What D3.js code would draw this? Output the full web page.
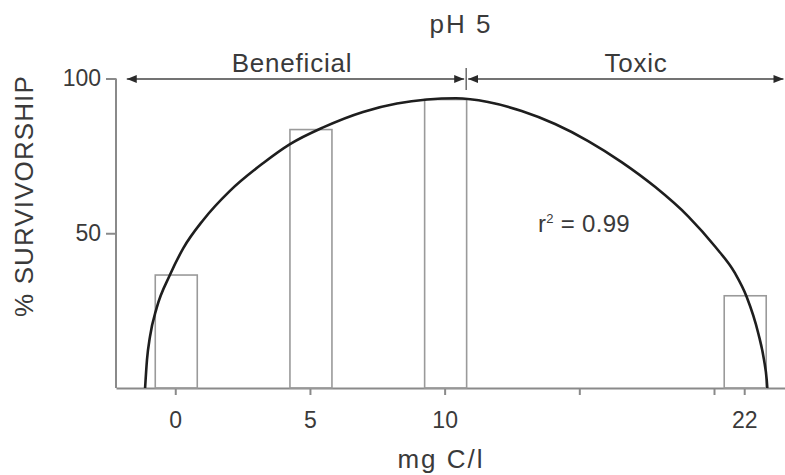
<!DOCTYPE html>
<html>
<head>
<meta charset="utf-8">
<script src="https://cdn.jsdelivr.net/npm/d3@7"></script>
<style>
  body { margin: 0; background: #fff; }
  svg { display: block; font-family: "Liberation Sans", Arial, sans-serif; }
  .axis path, .axis line { stroke: #8a8a8a; stroke-width: 2; }
  .axis text { font-size: 23px; fill: #3a3a3a; }
  .label { font-size: 26px; fill: #3a3a3a; letter-spacing: 0.8px; }
</style>
</head>
<body>
<svg id="chart" width="785" height="475"></svg>
<script>
const width = 785;
const height = 475;

/* DATA */
const doses = [0, 5, 10, 22];                 // mg C/l
const survival = [36.5, 83.5, 93.2, 29.8];    // % survivorship

// fitted curve
const fitX = [-1.12, -1.05, -0.94, -0.69, -0.20, 0.30, 1.04, 2.03, 3.27, 4.26, 5.49, 6.97, 8.23, 9.35,
  10.42, 11.61, 12.86, 14.10, 15.33, 16.57, 17.81, 19.05, 20.07, 21.39, 22.16, 22.93, 23.31, 23.49, 23.53];
const fitY = [0, 9.1, 16.5, 25.9, 36.5, 45.2, 54.3, 63.7, 72.7, 78.8, 84.2, 89.2, 91.9, 93.2,
  93.6, 92.4, 89.5, 85.3, 79.8, 73.0, 65.0, 55.4, 45.7, 37.1, 29.5, 17.7, 9.1, 2.6, 0];

const xTicks = [0, 5, 10, 15, 20, 22];
const xTickLabels = ["0", "5", "10", "", "", "22"];
const yTicks = [50, 100];

// beneficial / toxic ranges (start, split, end)
const zoneBounds = [-1.8, 10.8, 24.6];
const zoneNames = ["Beneficial", "Toxic"];


/* SCALES */
// the axis is compressed after 20, as in the original figure
const x = d3.scaleLinear()
  .domain([-2.2, 20, 24.7])
  .range([116, 714, 785]);

const y = d3.scaleLinear()
  .domain([0, 100])
  .range([388, 78.5]);

const svg = d3.select("svg#chart");


/* AXES */
const xAxis = d3.axisBottom(x)
  .tickValues(xTicks)
  .tickFormat((d, i) => xTickLabels[i])
  .tickSize(7)
  .tickSizeOuter(0)
  .tickPadding(17);

svg.append("g")
  .attr("class", "axis")
  .attr("transform", translate(0, y(0)))
  .call(xAxis);

const yAxis = d3.axisLeft(y)
  .tickValues(yTicks)
  .tickSize(10)
  .tickSizeOuter(0)
  .tickPadding(5);

svg.append("g")
  .attr("class", "axis")
  .attr("transform", translate(x(-2.2), 0))
  .call(yAxis)
  .select(".domain")
  .attr("d", "M0," + y(0) + "V" + y(100));


/* BARS */
const barWidth = 42;

svg.append("g").selectAll("rect")
  .data(doses)
  .enter()
  .append("rect")
  .attr("x", d => x(d) - barWidth / 2 + 1)
  .attr("y", (d, i) => y(survival[i]))
  .attr("width", barWidth)
  .attr("height", (d, i) => y(0) - y(survival[i]))
  .attr("fill", "none")
  .attr("stroke", "#9a9a9a")
  .attr("stroke-width", 1.6);


/* FITTED CURVE */
const line = d3.line()
  .x(d => x(d[0]))
  .y(d => y(d[1]))
  .curve(d3.curveMonotoneX);

svg.append("path")
  .datum(fitX.map((v, i) => [v, fitY[i]]))
  .attr("d", line)
  .attr("fill", "none")
  .attr("stroke", "#1e1e1e")
  .attr("stroke-width", 2.6);


/* RANGE ARROWS */
const defs = svg.append("defs");
defs.append("marker")
  .attr("id", "head")
  .attr("viewBox", "0 0 10 8")
  .attr("refX", 10)
  .attr("refY", 4)
  .attr("markerWidth", 10)
  .attr("markerHeight", 8)
  .attr("markerUnits", "userSpaceOnUse")
  .attr("orient", "auto-start-reverse")
  .append("path")
  .attr("d", "M0,0L10,4L0,8Z")
  .attr("fill", "#2a2a2a");

const arrowY = y(100) + 0.5;

svg.append("line")
  .attr("x1", x(zoneBounds[0])).attr("x2", x(zoneBounds[1]) - 2)
  .attr("y1", arrowY).attr("y2", arrowY)
  .attr("stroke", "#444").attr("stroke-width", 1.5)
  .attr("marker-start", "url(#head)")
  .attr("marker-end", "url(#head)");

svg.append("line")
  .attr("x1", x(zoneBounds[1]) + 2).attr("x2", x(zoneBounds[2]))
  .attr("y1", arrowY).attr("y2", arrowY)
  .attr("stroke", "#444").attr("stroke-width", 1.5)
  .attr("marker-start", "url(#head)")
  .attr("marker-end", "url(#head)");

svg.append("line")
  .attr("x1", x(zoneBounds[1])).attr("x2", x(zoneBounds[1]))
  .attr("y1", arrowY - 11).attr("y2", arrowY + 11)
  .attr("stroke", "#555").attr("stroke-width", 1.3);

svg.append("text").attr("class", "label")
  .attr("x", 292).attr("y", 71.5)
  .attr("text-anchor", "middle")
  .text(zoneNames[0]);

svg.append("text").attr("class", "label")
  .attr("x", 636).attr("y", 71.5)
  .attr("text-anchor", "middle")
  .text(zoneNames[1]);


/* TITLES */
svg.append("text").attr("class", "label")
  .attr("x", 461).attr("y", 33)
  .attr("text-anchor", "middle")
  .style("letter-spacing", "2px")
  .text("pH 5");

svg.append("text").attr("class", "label")
  .attr("x", 441).attr("y", 468)
  .attr("text-anchor", "middle")
  .style("letter-spacing", "2px")
  .text("mg C/l");

svg.append("text").attr("class", "label")
  .attr("transform", translate(33, 196) + " rotate(-90)")
  .attr("text-anchor", "middle")
  .style("letter-spacing", "1.1px")
  .text("% SURVIVORSHIP");

const r2 = svg.append("text").attr("class", "label")
  .attr("x", 538).attr("y", 231.5)
  .style("font-size", "24px")
  .style("letter-spacing", "0.3px");
r2.append("tspan").text("r");
r2.append("tspan").attr("dy", -9).style("font-size", "13px").text("2");
r2.append("tspan").attr("dy", 9).text(" = 0.99");


function translate(x, y) {
  return 'translate(' + String(x) + ',' + String(y) + ')';
}
</script>
</body>
</html>
